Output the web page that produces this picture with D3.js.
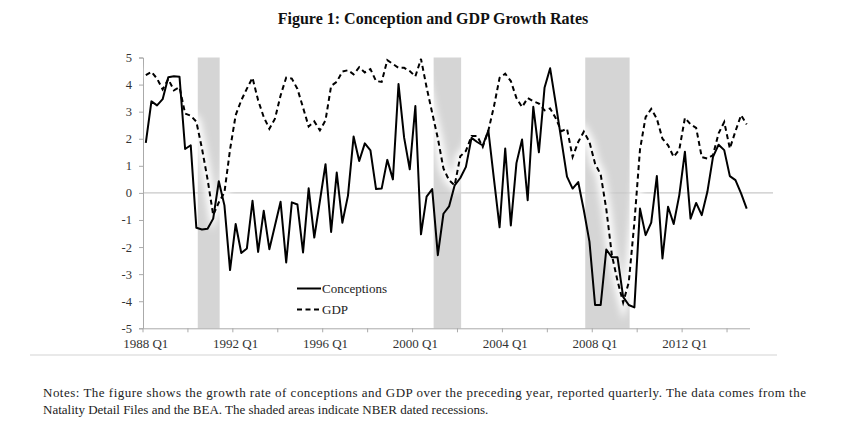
<!DOCTYPE html>
<html><head><meta charset="utf-8">
<script src="https://cdn.jsdelivr.net/npm/d3@7"></script>
<style>body{margin:0;background:#fff}svg{display:block}</style>
</head><body><svg id="c" width="850" height="436"></svg>
<script>
// ---- data ----
const years = d3.range(1988, 2015);
const quarters = years.flatMap(y => ["Q1","Q2","Q3","Q4"].map(q => y + " " + q));
const xTickLabels = ["1988 Q1","1992 Q1","1996 Q1","2000 Q1","2004 Q1","2008 Q1","2012 Q1"];
const yTicks = [5,4,3,2,1,0,-1,-2,-3,-4,-5];
const conceptions = [1.85,3.38,3.23,3.46,4.27,4.31,4.29,1.62,1.76,-1.29,-1.35,-1.32,-0.95,0.43,-0.46,-2.85,
 -1.15,-2.22,-2.05,-0.29,-2.18,-0.66,-2.08,-1.2,-0.33,-2.57,-0.35,-0.43,-2.2,0.17,-1.65,-0.3,
 1.06,-1.44,0.75,-1.1,-0.1,2.08,1.18,1.83,1.57,0.14,0.16,1.22,0.5,4.02,2.04,0.87,
 3.21,-1.53,-0.14,0.14,-2.3,-0.77,-0.5,0.28,0.55,0.96,2.03,1.88,1.75,2.3,0.5,-1.27,
 1.64,-1.2,1.1,1.97,-0.27,3.18,1.5,3.88,4.6,3.3,1.95,0.6,0.16,0.4,-0.64,-1.8,
 -4.14,-4.14,-2.09,-2.38,-2.38,-3.84,-4.14,-4.23,-0.58,-1.56,-1.1,0.62,-2.42,-0.51,-1.15,-0.08,
 1.52,-0.95,-0.37,-0.82,0.04,1.33,1.78,1.58,0.62,0.47,-0.02,-0.58];
const gdp = [4.35,4.47,4.22,3.82,4.2,3.79,3.9,2.93,2.85,2.63,1.64,0.5,-0.82,-0.35,0.02,1.6,
 2.87,3.42,3.85,4.25,3.42,2.8,2.37,2.74,3.6,4.26,4.22,3.84,3.15,2.45,2.64,2.31,
 2.68,3.95,4.1,4.48,4.53,4.38,4.64,4.45,4.57,4.13,4.1,4.9,4.76,4.62,4.62,4.5,
 4.3,4.95,3.9,2.95,2.02,0.9,0.47,0.28,1.35,1.55,2.1,2.1,1.7,2.3,3.2,4.25,
 4.4,4.13,3.5,3.17,3.5,3.38,3.3,3.05,3.12,2.76,2.28,2.37,1.33,1.88,2.26,1.88,
 1.08,0.68,-0.6,-2.3,-3.25,-4.05,-3.3,-1.1,1.6,2.8,3.1,2.74,2.0,1.76,1.33,1.6,
 2.77,2.53,2.4,1.32,1.27,1.4,2.2,2.62,1.64,2.28,2.87,2.53];
const recessions = [["1990 Q3","1991 Q1"],["2001 Q1","2001 Q4"],["2007 Q4","2009 Q2"]];
const seriesNames = ["Conceptions","GDP"];
const titleText = "Figure 1: Conception and GDP Growth Rates";
const notes = ["Notes: The figure shows the growth rate of conceptions and GDP over the preceding year, reported quarterly.  The data comes from the",
 "Natality Detail Files and the BEA. The shaded areas indicate NBER dated recessions."];

// ---- drawing ----
const svg = d3.select("#c");
const serif = "'Liberation Serif','Times New Roman',serif";
const x = d3.scaleBand().domain(quarters).range([143, 749.5]).padding(0);
const step = x.step();
const xc = q => x(q) + step / 2;
const y = d3.scaleLinear().domain([-5, 5]).range([328.3, 57.5]);

const defs = svg.append("defs");
defs.append("filter").attr("id","glow").attr("x","-20%").attr("y","-20%").attr("width","140%").attr("height","140%")
  .append("feGaussianBlur").attr("stdDeviation", 3.5);

// recessions
svg.append("g").selectAll("rect").data(recessions).join("rect")
  .attr("x", d => xc(d[0]) - 0.75 * step)
  .attr("width", d => xc(d[1]) + 1.15 * step - (xc(d[0]) - 0.75 * step))
  .attr("y", y(5)).attr("height", y(-5) - y(5))
  .attr("fill", "#d5d5d5");

// zero line
svg.append("line").attr("x1", 143).attr("x2", 773).attr("y1", y(0)).attr("y2", y(0))
  .attr("stroke", "#c8c8c8").attr("stroke-width", 1.2);

// y axis
const yAxis = d3.axisLeft(y).tickValues(yTicks).tickSize(4).tickPadding(7).tickFormat(d3.format("d"));
const gy = svg.append("g").attr("transform", "translate(143,0)").call(yAxis);
gy.select(".domain").attr("stroke", "#aaa");
gy.selectAll(".tick line").attr("stroke", "#aaa");
gy.selectAll("text").attr("font-family", serif).attr("font-size", 12.5).attr("fill", "#333")
  .text(d => d < 0 ? "-" + Math.abs(d) : d);

// x axis
const xAxis = d3.axisBottom(x).tickValues([]).tickSizeOuter(0);
const gx = svg.append("g").attr("transform", `translate(0,${y(-5)})`).call(xAxis);
gx.select(".domain").attr("stroke", "#aaa");
gx.selectAll(".tk").data(quarters.filter((q, i) => i % 8 === 0)).join("line")
  .attr("x1", d => x(d)).attr("x2", d => x(d)).attr("y1", 0).attr("y2", 4).attr("stroke", "#aaa");
gx.selectAll(".lb").data(xTickLabels).join("text")
  .attr("x", d => xc(d)).attr("y", 20).attr("text-anchor", "middle")
  .attr("font-family", serif).attr("font-size", 13).attr("fill", "#333").text(d => d);

// bottom rule
svg.append("line").attr("x1", 30).attr("x2", 777).attr("y1", 355).attr("y2", 355)
  .attr("stroke", "#e2e2e2").attr("stroke-width", 1.5);

const line = d3.line().x((d, i) => xc(quarters[i])).y(d => y(d));

// glow under GDP
svg.append("path").datum(gdp).attr("d", line).attr("fill", "none")
  .attr("stroke", "#fff").attr("stroke-width", 9).attr("filter", "url(#glow)");

svg.append("path").datum(conceptions).attr("d", line).attr("fill", "none")
  .attr("stroke", "#000").attr("stroke-width", 2).attr("stroke-linejoin", "round");
svg.append("path").datum(gdp).attr("d", line).attr("fill", "none")
  .attr("stroke", "#000").attr("stroke-width", 2).attr("stroke-dasharray", "5,3.5");

// legend
const lg = svg.append("g");
seriesNames.forEach((n, i) => {
  const yy = 288.5 + i * 21;
  lg.append("line").attr("x1", 297).attr("x2", 321).attr("y1", yy).attr("y2", yy)
    .attr("stroke", "#000").attr("stroke-width", 2)
    .attr("stroke-dasharray", i === 1 ? "5,3.5" : null);
  lg.append("text").attr("x", 322).attr("y", yy + 4.5).attr("font-family", serif)
    .attr("font-size", 13).attr("fill", "#222").text(n);
});

// title
svg.append("text").attr("x", 433).attr("y", 24).attr("text-anchor", "middle")
  .attr("font-family", serif).attr("font-weight", "bold").attr("font-size", 16).attr("fill", "#111")
  .text(titleText);

// notes
svg.selectAll(".note").data(notes).join("text")
  .attr("x", 43).attr("y", (d, i) => 397 + i * 17)
  .attr("font-family", serif).attr("font-size", 13).attr("fill", "#222")
  .attr("textLength", (d, i) => i === 0 ? 763 : null)
  .attr("lengthAdjust", "spacing")
  .text(d => d);
</script></body></html>
